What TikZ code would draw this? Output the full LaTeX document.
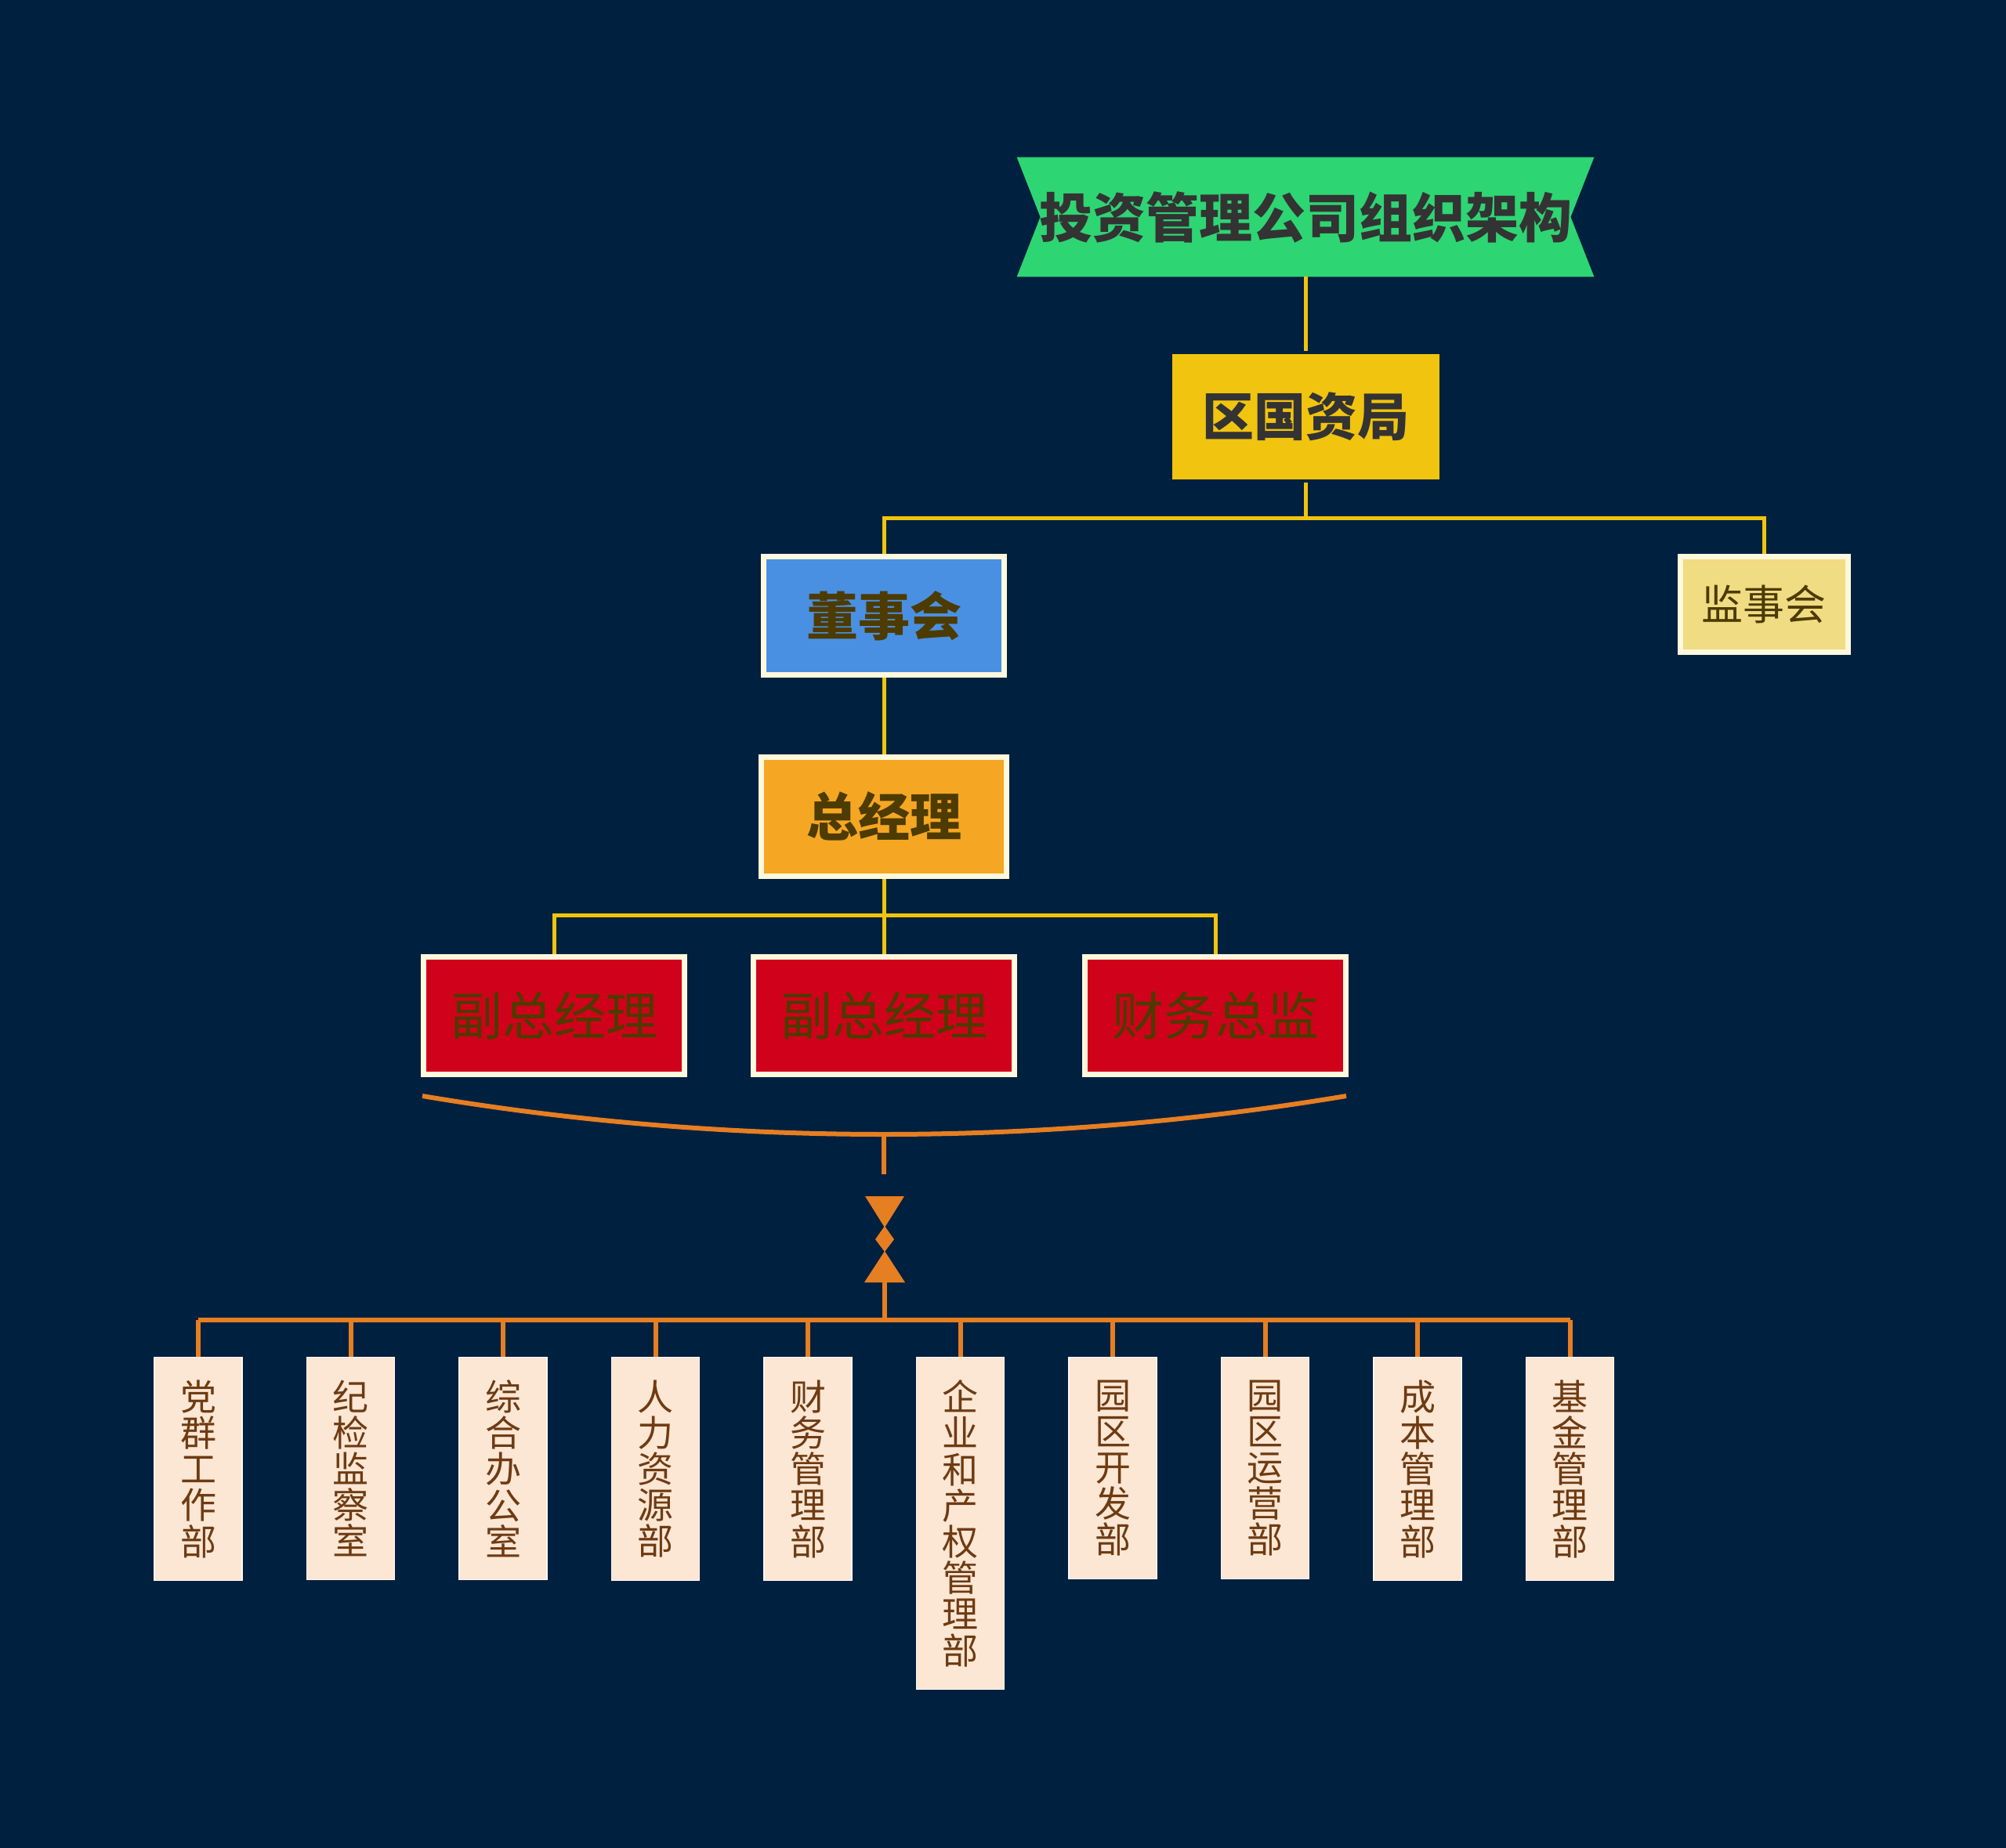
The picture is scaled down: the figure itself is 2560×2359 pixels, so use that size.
\documentclass[tikz,border=0pt]{standalone}
\usepackage{fontspec}
\setmainfont{Noto Sans CJK SC}
\usepackage{tikz}
\usetikzlibrary{calc,backgrounds}
\definecolor{navy}{HTML}{00203F}
\definecolor{ribbon}{HTML}{2ED573}
\definecolor{govyel}{HTML}{F1C40F}
\definecolor{boardblue}{HTML}{4A90E2}
\definecolor{gmorange}{HTML}{F5A623}
\definecolor{vpred}{HTML}{D0021B}
\definecolor{supkhaki}{HTML}{F0DC82}
\definecolor{cream}{HTML}{FFF8DC}
\definecolor{peach}{HTML}{FCE6D4}
\definecolor{inkgrey}{HTML}{333333}
\definecolor{olive}{HTML}{4D3B00}
\definecolor{deptbrown}{HTML}{6E3B12}
\definecolor{linkyel}{HTML}{F1C40F}
\definecolor{linkorg}{HTML}{E67E22}
\tikzset{
  orgbox/.style={rectangle, fill=#1, draw=cream, line width=3.5pt,
                 inner sep=0pt, align=center, text=olive},
  headtxt/.style={font=\fontsize{33}{33}\selectfont\bfseries},
  plaintxt/.style={font=\fontsize{33}{33}\selectfont},
  dept/.style={rectangle, fill=peach, draw=white!70!peach, line width=0.6pt,
               anchor=north, minimum width=56pt, inner xsep=0pt, inner ysep=14.5pt,
               align=center, text=deptbrown, font=\fontsize{23}{23.1}\selectfont},
  link/.style={draw=linkyel, line width=2.5pt},
  olink/.style={draw=linkorg, line width=3pt},
}

\begin{document}
\begin{tikzpicture}[x=0.5pt,y=-0.5pt]
  \useasboundingbox (0,0) rectangle (2560,2359);
  \begin{scope}[on background layer]
    \fill[navy] (0,0) rectangle (2560,2359);
  \end{scope}

  % title ribbon
  \node[minimum width=368pt, minimum height=76pt, inner sep=0pt, text=inkgrey,
        font=\fontsize{34}{34}\selectfont\bfseries] (title) at (1666,277) {投资管理公司组织架构};
  \begin{scope}[on background layer]
    \fill[ribbon] (title.north west) -- ($(title.west)+(30,0)$) -- (title.south west)
      -- (title.south east) -- ($(title.east)+(-30,0)$) -- (title.north east) -- cycle;
  \end{scope}

  % upper levels
  \node[orgbox=govyel, draw=none, headtxt, text=inkgrey, minimum width=170.5pt, minimum height=80pt] (guozi) at (1666,532) {区国资局};
  \node[orgbox=boardblue, headtxt, minimum width=153.5pt, minimum height=75.5pt] (board) at (1128,786) {董事会};
  \node[orgbox=supkhaki, font=\fontsize{26.5}{26.5}\selectfont, minimum width=107pt, minimum height=61pt] (supv) at (2251,771) {监事会};
  \node[orgbox=gmorange, headtxt, minimum width=156.5pt, minimum height=76pt] (gm) at (1128,1042) {总经理};

  % deputies
  \node[orgbox=vpred, plaintxt, minimum width=166.5pt, minimum height=75pt] (vp1) at (707,1296) {副总经理};
  \node[orgbox=vpred, plaintxt, minimum width=166.5pt, minimum height=75pt] (vp2) at (1128,1296) {副总经理};
  \node[orgbox=vpred, plaintxt, minimum width=166.5pt, minimum height=75pt] (cfo) at (1551,1296) {财务总监};

  % yellow links
  \draw[link] (title.south) -- (guozi.north);
  \coordinate (split1) at ($(guozi.south)+(0,46)$);
  \draw[link] (guozi.south) -- (split1) -| (board.north);
  \draw[link] (split1) -| (supv.north);
  \draw[link] (board.south) -- (gm.north);
  \coordinate (split2) at ($(gm.south)+(0,47)$);
  \draw[link] (gm.south) -- (split2) -| (vp1.north);
  \draw[link] (split2) -- (vp2.north);
  \draw[link] (split2) -| (cfo.north);

  % summary brace
  \coordinate (bl) at (539,1399);
  \coordinate (br) at (1718,1399);
  \coordinate (bm) at (1128,1448);
  \draw[olink] (bl) .. controls (735,1432) and (932,1448) .. (bm)
               .. controls (1324,1448) and (1521,1432) .. (br);
  \coordinate (tick) at (1128,1499);
  \draw[olink] (bm) -- (tick);

  % hourglass
  \coordinate (hg) at (1129,1582);
  \fill[linkorg] ($(hg)+(-25,-55)$) -- ($(hg)+(25,-55)$) -- ($(hg)+(0,-15)$) -- cycle;
  \fill[linkorg] ($(hg)+(0,-17)$) -- ($(hg)+(12,0)$) -- ($(hg)+(0,16)$) -- ($(hg)+(-12,0)$) -- cycle;
  \fill[linkorg] ($(hg)+(0,15)$) -- ($(hg)+(26,55)$) -- ($(hg)+(-26,55)$) -- cycle;
  \coordinate (hgb) at ($(hg)+(0,55)$);
  \coordinate (bus) at (1129,1685);

  % departments
  \foreach \i/\txt in {1/{党\\群\\工\\作\\部}, 2/{纪\\检\\监\\察\\室}, 3/{综\\合\\办\\公\\室},
                       4/{人\\力\\资\\源\\部}, 5/{财\\务\\管\\理\\部},
                       6/{企\\业\\和\\产\\权\\管\\理\\部}, 7/{园\\区\\开\\发\\部},
                       8/{园\\区\\运\\营\\部}, 9/{成\\本\\管\\理\\部}, 10/{基\\金\\管\\理\\部}}
    \node[dept] (d\i) at ({253+194.5*(\i-1)},1732) {\txt};

  \draw[olink] (hgb) -- (bus);
  \draw[olink] (d1.north |- bus) -- (d10.north |- bus);
  \foreach \i in {1,...,10}
    \draw[olink] (d\i.north |- bus) -- (d\i.north);
\end{tikzpicture}
\end{document}
